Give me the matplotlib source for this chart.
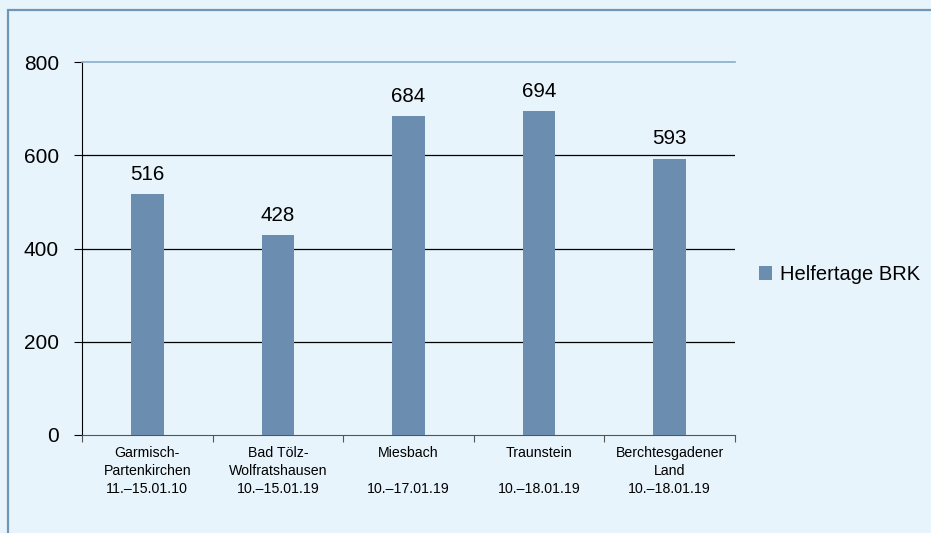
import matplotlib.pyplot as plt
from matplotlib.patches import Rectangle

plt.rcParams['font.family'] = ['Liberation Sans', 'DejaVu Sans']

categories = ["Garmisch-\nPartenkirchen\n11.–15.01.10",
              "Bad Tölz-\nWolfratshausen\n10.–15.01.19",
              "Miesbach\n\n10.–17.01.19",
              "Traunstein\n\n10.–18.01.19",
              "Berchtesgadener\nLand\n10.–18.01.19"]
helfertage = [516, 428, 684, 694, 593]
y_ticks = [0, 200, 400, 600, 800]

bg = '#e8f4fc'
bar_color = '#6b8db0'

fig = plt.figure(figsize=(9.31, 5.33), dpi=100, facecolor=bg)
# frame line top/left
fig.patches.append(Rectangle((8 / 931, -0.1), 1.2, 1 - 10 / 533 + 0.1,
                             transform=fig.transFigure, fill=False,
                             edgecolor='#7096b6', linewidth=1.6))

ax = fig.add_axes([82 / 931, 1 - 435 / 533, (735 - 82) / 931, (435 - 62) / 533])
ax.set_facecolor(bg)

x = range(len(categories))
bars = ax.bar(x, helfertage, width=0.25, color=bar_color, label='Helfertage BRK', zorder=3)
for xi, v in zip(x, helfertage):
    ax.text(xi, v + 22, str(v), ha='center', va='bottom', fontsize=14.8)

ax.set_xlim(-0.5, len(categories) - 0.5)
ax.set_ylim(0, 800)
ax.set_yticks(y_ticks)
ax.set_yticklabels([str(t) for t in y_ticks], fontsize=15)
for t in y_ticks[1:-1]:
    ax.axhline(t, color='black', linewidth=0.9, zorder=1)

ax.set_xticks([i + 0.5 for i in range(-1, len(categories))])
ax.set_xticklabels([])
ax.set_xticks(list(x), minor=True)
ax.set_xticklabels(categories, minor=True, fontsize=10.2, linespacing=1.34)
ax.tick_params(axis='x', which='minor', length=0, pad=8)
ax.tick_params(axis='x', which='major', length=5, direction='out', color='#555555')
ax.tick_params(axis='y', length=6, direction='out', pad=10.5)

ax.spines['right'].set_visible(False)
ax.spines['top'].set_color('#8aaccc')
ax.spines['top'].set_linewidth(1.2)
ax.spines['left'].set_color('black')
ax.spines['bottom'].set_color('#555555')

ax.legend(loc='center left', bbox_to_anchor=(1 + (759 - 735) / 653, 0.43), frameon=False,
          fontsize=14.5, handlelength=0.65, handleheight=0.65, handletextpad=0.4,
          borderpad=0, borderaxespad=0)

fig.savefig('out.png', dpi=100, facecolor=bg)
